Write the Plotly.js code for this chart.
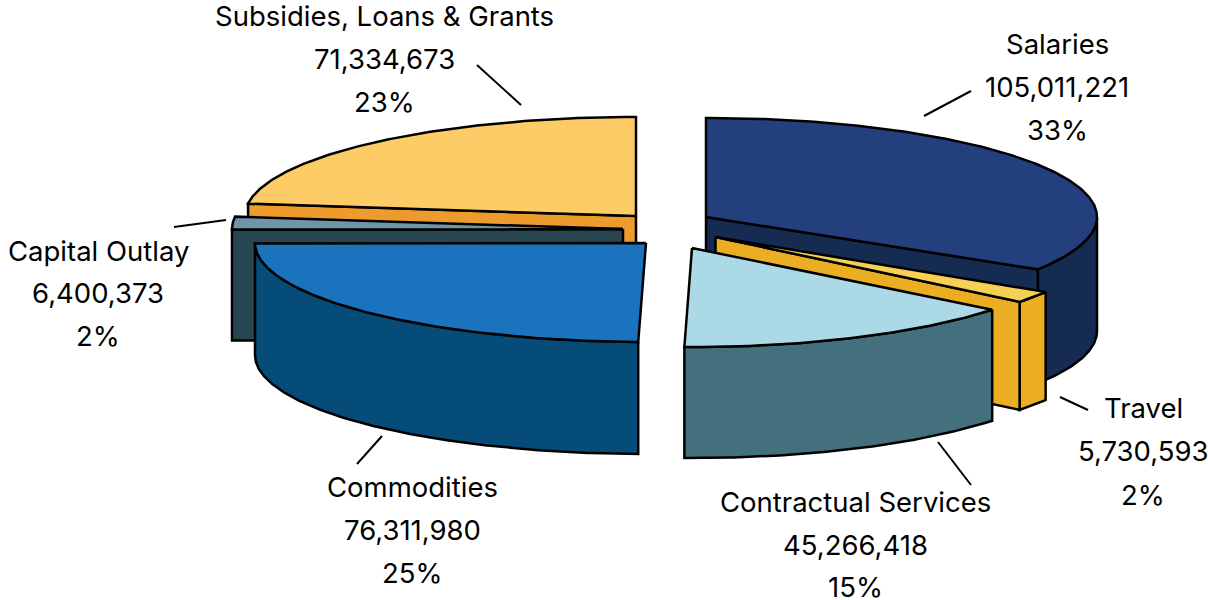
<!DOCTYPE html>
<html><head><meta charset="utf-8">
<script src="https://cdn.plot.ly/plotly-3.0.1.min.js"></script>
<style>html,body{margin:0;padding:0;background:#fff}#c{width:1208px;height:600px}</style>
</head><body><div id="c"></div>
<script>
// ---- data ----
const categories = ["Salaries","Travel","Contractual Services","Commodities","Capital Outlay","Subsidies, Loans & Grants"];
const amounts = [105011221,5730593,45266418,76311980,6400373,71334673];
const percentLabels = ["33%","2%","15%","25%","2%","23%"];

// ---- drawing geometry and styles ----
const radiusX = [391,389,384,391,391,391];
const radiusY = [99,104,99,99,99,99];
const apexX = [706,715.5,692,646,623,636];
const apexY = [217,237,248,243,229,216];
const depth = [114,108,111,112,111,111];
const topColor = ["#243F7E","#F5D055","#ABD9E5","#1B72BD","#7095A8","#FDCC66"];
const sideColor = ["#152B52","#EBAD21","#44707E","#054D78","#274650","#EE9B2E"];
const labelX = [1057,1143,855,412,98,384];
const labelY = [[44,87,130],[408,451,495],[502,545,587],[487,530,573],[251,293,336],[16,59,102]];
const leaders = [[924,116,971,91],[1060,397,1088,410],[971,485,938,442],[357,464,382,436],[174,227,226,220],[477,65,521,105]];
const drawOrder = [5,0,4,1,3,2];
const LW = 2.5;

const total = amounts.reduce((a,b)=>a+b,0);
let acc = 0;
const startA = [], endA = [];
amounts.forEach(v=>{startA.push(acc/total*2*Math.PI);acc+=v;endA.push(acc/total*2*Math.PI);});

const px=(i,t)=>apexX[i]+radiusX[i]*Math.sin(t);
const py=(i,t)=>apexY[i]-radiusY[i]*Math.cos(t);
function arc(i,a,b){const xs=[],ys=[];const n=Math.max(4,Math.ceil(Math.abs(b-a)/0.01));
  for(let k=0;k<=n;k++){const t=a+(b-a)*k/n;xs.push(px(i,t));ys.push(py(i,t));}return [xs,ys];}
function poly(xs,ys,color){return {type:"scatter",mode:"lines",x:xs.concat([xs[0]]),y:ys.concat([ys[0]]),fill:"toself",fillcolor:color,
  line:{color:"#000",width:LW},hoverinfo:"skip",showlegend:false};}

const traces=[];
function cutFace(i,t){ // radial wall from the apex to the rim at angle t
  const x=px(i,t),y=py(i,t),d=depth[i];
  traces.push(poly([apexX[i],x,x,apexX[i]],[apexY[i],y,y+d,apexY[i]+d],sideColor[i]));
}
function rimWall(i,a,b){ // outer wall for the part of the rim facing the viewer
  const lo=Math.max(a,Math.PI/2),hi=Math.min(b,1.5*Math.PI);
  if(hi<=lo)return;
  const [xs,ys]=arc(i,lo,hi);
  const rx=xs.slice().reverse(),ry=ys.slice().reverse().map(v=>v+depth[i]);
  traces.push(poly(xs.concat(rx),ys.concat(ry),sideColor[i]));
}
function topFace(i){
  const [xs,ys]=arc(i,startA[i],endA[i]);
  traces.push(poly([apexX[i]].concat(xs),[apexY[i]].concat(ys),topColor[i]));
}
drawOrder.forEach(i=>{
  const a=startA[i],b=endA[i];
  if(i===5||i===4){cutFace(i,a);}
  else if(i===0||i===1){rimWall(i,a,b);cutFace(i,b);}
  else {rimWall(i,a,b);}
  topFace(i);
});

const annotations=[];
categories.forEach((name,i)=>{
  [name,amounts[i].toLocaleString("en-US"),percentLabels[i]].forEach((txt,k)=>{
    annotations.push({x:labelX[i],y:labelY[i][k],xref:"x",yref:"y",text:txt,showarrow:false,xanchor:"center",yanchor:"middle",
      font:{family:"Inter, sans-serif",size:27.5,color:"#000"}});
  });
});
const shapes=leaders.map(l=>({type:"line",x0:l[0],y0:l[1],x1:l[2],y1:l[3],xref:"x",yref:"y",line:{color:"#000",width:2}}));

Plotly.newPlot("c",traces,{
  width:1208,height:600,margin:{l:0,r:0,t:0,b:0},paper_bgcolor:"#fff",plot_bgcolor:"#fff",showlegend:false,
  xaxis:{range:[0,1208],visible:false,fixedrange:true},
  yaxis:{range:[600,0],visible:false,fixedrange:true},
  annotations,shapes
},{displayModeBar:false,staticPlot:true});
</script></body></html>
